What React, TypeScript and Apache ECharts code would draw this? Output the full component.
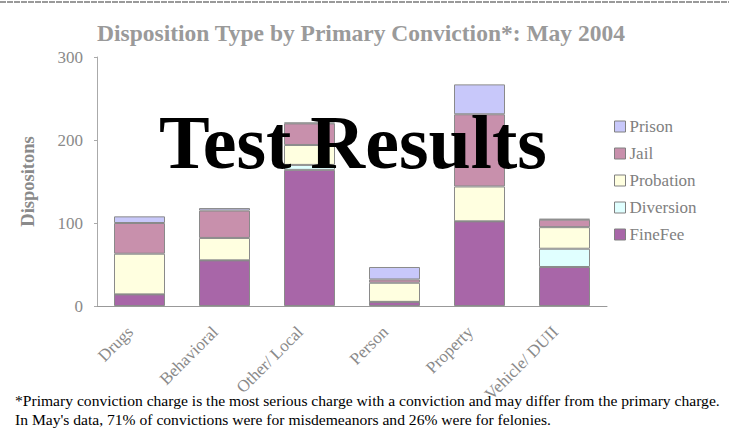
import React, { useEffect, useRef } from "react";
import * as echarts from "echarts";

const categories = ["Drugs", "Behavioral", "Other/ Local", "Person", "Property", "Vehicle/ DUII"];
const fineFee = [14, 55, 164, 5, 102, 47];
const diversion = [0, 0, 6, 0, 0, 22];
const probation = [49, 27, 24, 23, 42, 26];
const jail = [37, 33, 26, 4, 87, 9];
const prison = [8, 3, 1, 15, 36, 1];
const yTicks = [0, 100, 200, 300];

const FONT = "'Liberation Serif', 'DejaVu Serif', serif";

export default function App() {
  const ref = useRef<HTMLDivElement>(null);
  useEffect(() => {
    document.body.style.margin = "0";
    const chart = echarts.init(ref.current!, null, { renderer: "svg" });
    const mk = (name: string, data: number[], color: string) => ({
      name,
      type: "bar",
      stack: "total",
      data,
      barWidth: "60%",
      itemStyle: { color, borderColor: "#8a8a8a", borderWidth: 1 },
    });
    chart.setOption({
      animation: false,
      backgroundColor: "#ffffff",
      title: {
        text: "Disposition Type by Primary Conviction*: May 2004",
        left: 356,
        top: 16,
        textAlign: "center",
        textStyle: { fontFamily: FONT, fontSize: 23.5, fontWeight: "bold", color: "#9a9a9a" },
      },
      grid: { left: 97, right: 122, top: 57, bottom: 129, containLabel: false },
      legend: {
        orient: "vertical",
        left: 609,
        top: 113,
        itemWidth: 11,
        itemHeight: 11,
        itemGap: 10,
        icon: "rect",
        data: ["Prison", "Jail", "Probation", "Diversion", "FineFee"],
        textStyle: { fontFamily: FONT, fontSize: 17, color: "#808080", padding: [0, 0, 0, -1] },
        itemStyle: { borderColor: "#808080", borderWidth: 1 },
      },
      xAxis: {
        type: "category",
        data: categories,
        axisLine: { lineStyle: { color: "#999" } },
        axisTick: { show: false },
        axisLabel: {
          rotate: 45,
          interval: 0,
          margin: 14,
          padding: [0, 13, 0, 0],
          fontFamily: FONT,
          fontSize: 17,
          color: "#8a8a8a",
        },
      },
      yAxis: {
        type: "value",
        min: 0,
        max: 300,
        interval: 100,
        name: "Dispositons",
        nameLocation: "middle",
        nameGap: 60,
        nameTextStyle: { fontFamily: FONT, fontSize: 18.5, fontWeight: "bold", color: "#8a8a8a" },
        axisLine: { show: true, lineStyle: { color: "#aaa" } },
        axisTick: { show: true, length: 3, lineStyle: { color: "#aaa" } },
        splitLine: { show: false },
        axisLabel: {
          fontFamily: FONT,
          fontSize: 17,
          color: "#8a8a8a",
          margin: 14,
          formatter: (v: number) => (yTicks.includes(v) ? String(v) : ""),
        },
      },
      series: [
        mk("FineFee", fineFee, "#a866a8"),
        mk("Diversion", diversion, "#e0ffff"),
        mk("Probation", probation, "#ffffe0"),
        mk("Jail", jail, "#c890ac"),
        mk("Prison", prison, "#c8c8fa"),
      ],
      graphic: [
        {
          type: "line",
          shape: { x1: 0, y1: 2, x2: 729, y2: 2 },
          style: { stroke: "#9a9a9a", lineWidth: 2, lineDash: [6, 1] },
        },
        {
          type: "text",
          left: 159,
          top: 104,
          z: 100,
          style: {
            text: "Test Results",
            fontFamily: FONT,
            fontSize: 76,
            fontWeight: "bold",
            fill: "#000000",
          },
        },
        {
          type: "text",
          left: 15,
          top: 392,
          style: {
            text: "*Primary conviction charge is the most serious charge with a conviction and may differ from the primary charge.",
            fontFamily: FONT,
            fontSize: 15.6,
            fill: "#000000",
          },
        },
        {
          type: "text",
          left: 15,
          top: 411,
          style: {
            text: "In May's data, 71% of convictions were for misdemeanors and 26% were for felonies.",
            fontFamily: FONT,
            fontSize: 15.6,
            fill: "#000000",
          },
        },
      ],
    });
    return () => chart.dispose();
  }, []);
  return <div ref={ref} style={{ width: 729, height: 435 }} />;
}
